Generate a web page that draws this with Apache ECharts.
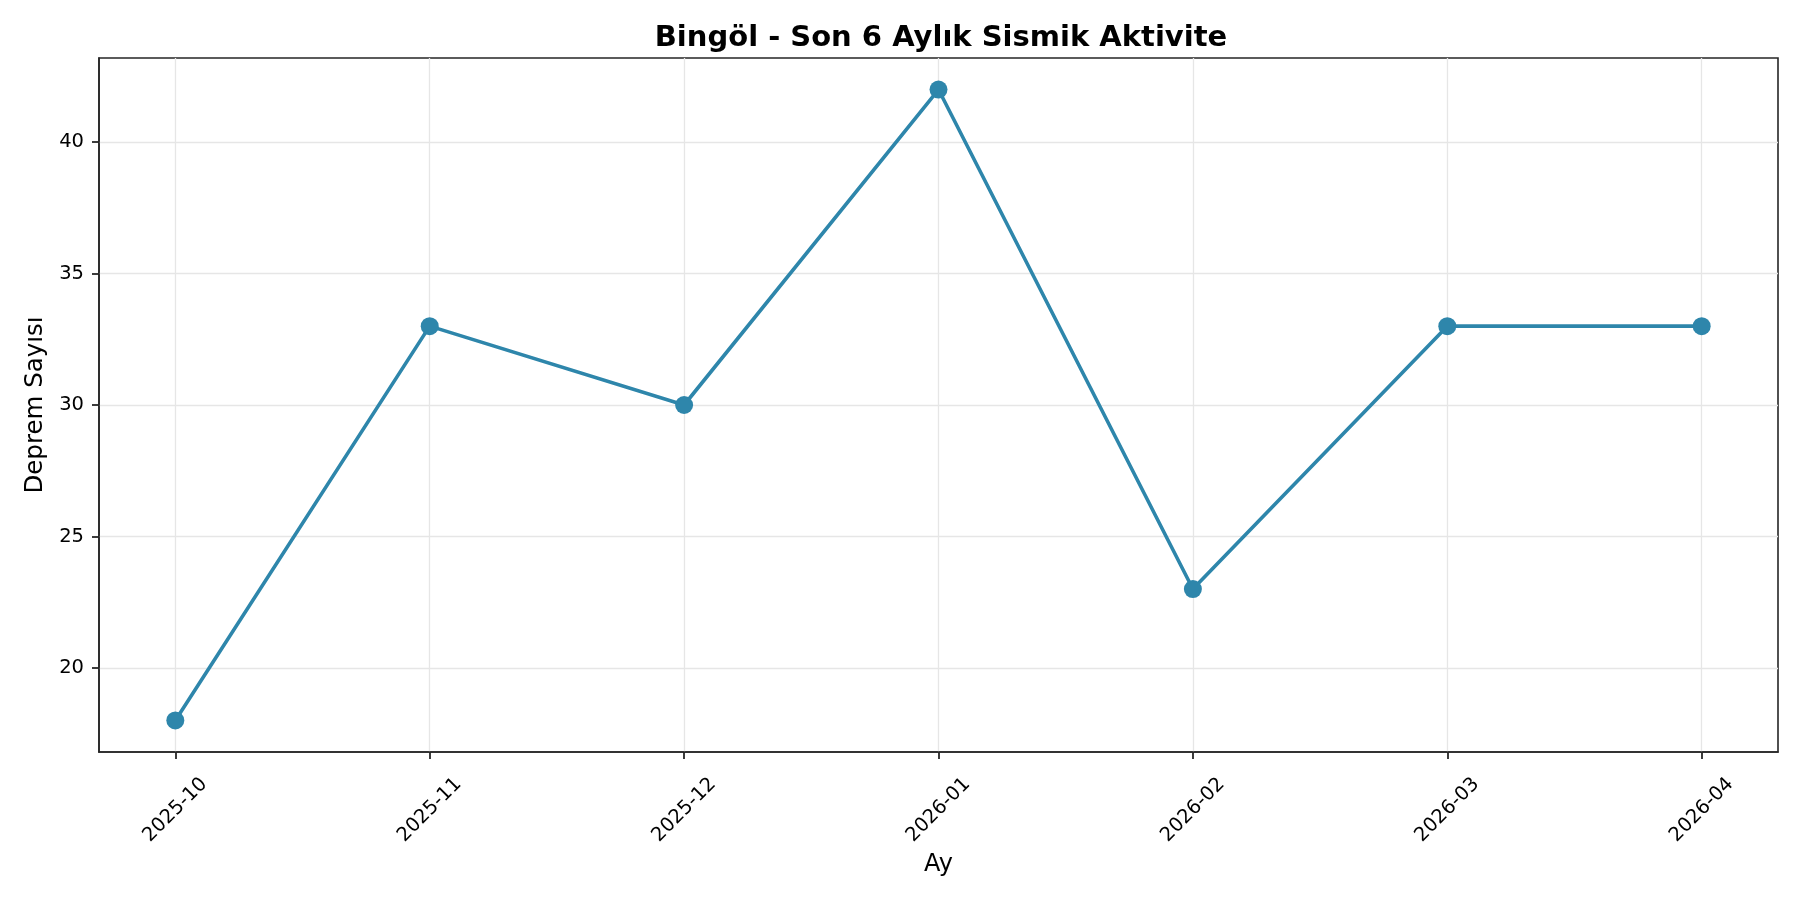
<!DOCTYPE html>
<html><head><meta charset="utf-8">
<script src="https://cdn.jsdelivr.net/npm/echarts@6/dist/echarts.min.js"></script>
<style>html,body{margin:0;padding:0;background:#fff}#c{width:1800px;height:900px}</style>
</head><body><div id="c"></div>
<script>
const titleText = 'Bingöl - Son 6 Aylık Sismik Aktivite';
const xName = 'Ay';
const yName = 'Deprem Sayısı';
const months = ['2025-10','2025-11','2025-12','2026-01','2026-02','2026-03','2026-04'];
const counts = [18, 33, 30, 42, 23, 33, 33];
const yTicks = [20, 25, 30, 35, 40];

const xTicks = months.map((m, i) => i);
const font = 'DejaVu Sans';
const chart = echarts.init(document.getElementById('c'), null, {renderer: 'canvas'});
chart.setOption({
  backgroundColor: '#fff',
  animation: false,
  title: {
    text: titleText, left: 936, textAlign: 'center', top: 19,
    textStyle: {fontFamily: font, fontWeight: 'bold', fontSize: 29, color: '#000'}
  },
  grid: {left: 99, right: 22, top: 58, bottom: 148, show: true, borderColor: '#262626', borderWidth: 1.6, backgroundColor: 'transparent'},
  xAxis: {
    type: 'value', min: -0.3, max: 6.3,
    name: xName, nameLocation: 'middle', nameGap: 98,
    nameTextStyle: {fontFamily: font, fontSize: 24, color: '#000'},
    axisLine: {show: true, onZero: false, lineStyle: {color: '#262626', width: 1.6}},
    axisTick: {show: true, customValues: xTicks, length: 7, lineStyle: {color: '#262626', width: 1.8}},
    axisLabel: {
      customValues: xTicks, rotate: 45, align: 'center', verticalAlign: 'middle', margin: 58,
      fontFamily: font, fontSize: 19.5, color: '#000',
      formatter: v => months[Math.round(v)]
    },
    splitLine: {show: true, lineStyle: {color: '#e6e6e6', width: 1.3}}
  },
  yAxis: {
    type: 'value', min: 16.8, max: 43.2,
    name: yName, nameLocation: 'middle', nameGap: 50, nameRotate: 90,
    nameTextStyle: {fontFamily: font, fontSize: 24.5, color: '#000'},
    axisLine: {show: true, onZero: false, lineStyle: {color: '#262626', width: 1.6}},
    axisTick: {show: true, inside: false, customValues: yTicks, length: 7, lineStyle: {color: '#262626', width: 1.8}},
    axisLabel: {customValues: yTicks, margin: 15, fontFamily: font, fontSize: 19.5, color: '#000'},
    splitLine: {show: true, lineStyle: {color: '#e6e6e6', width: 1.3}}
  },
  series: [{
    type: 'line',
    data: months.map((m, i) => [i, counts[i]]),
    symbol: 'circle', symbolSize: 18,
    lineStyle: {color: '#2E86AB', width: 3.6},
    itemStyle: {color: '#2E86AB'},
    z: 5
  }]
});
</script></body></html>
